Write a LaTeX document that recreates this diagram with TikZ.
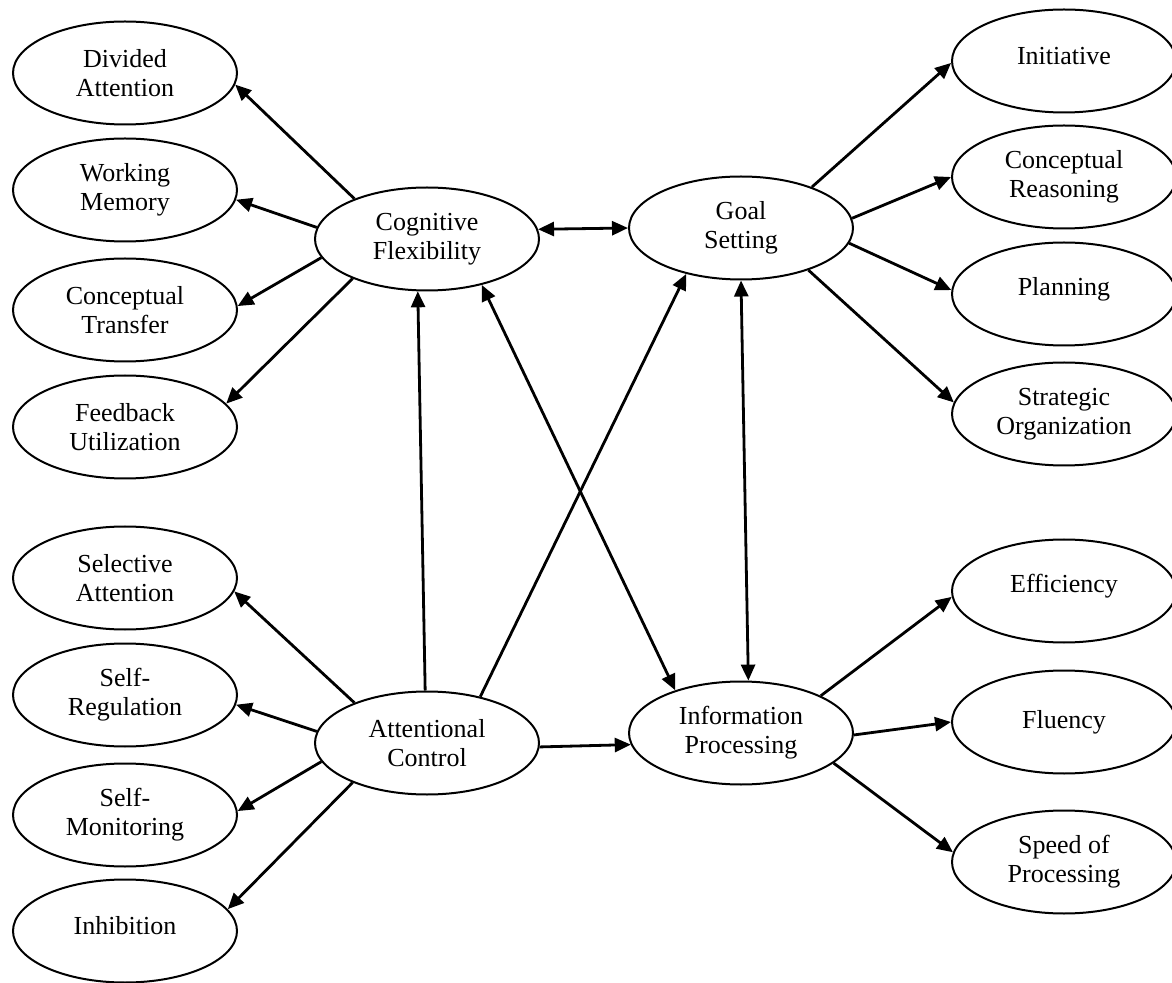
\documentclass[tikz,border=0pt]{standalone}
\usepackage{fontspec}
\setmainfont{Liberation Serif}
\usetikzlibrary{arrows.meta,shapes.geometric}
\newcommand\liftup[1]{\raisebox{2.5pt}[\height][\depth]{#1}}
\begin{document}
\begin{tikzpicture}[x=0.5pt,y=-0.5pt,
  factor/.style={ellipse,draw,line width=1pt,minimum width=112pt,
    minimum height=51.5pt,inner sep=0pt,align=center,
    font=\fontsize{13}{14.5}\selectfont},
  link/.style={line width=1.4pt,-{Triangle[length=8pt,width=7pt]}},
  twoway/.style={line width=1.4pt,{Triangle[length=8pt,width=7pt]}-{Triangle[length=8pt,width=7pt]}}]
\useasboundingbox (0,0) rectangle (1172,983);

% left column: components of cognitive flexibility
\node[factor] (da) at (125,73)  {Divided\\Attention};
\node[factor] (wm) at (125,190) {Working\\Memory};
\node[factor] (ct) at (125,310) {Conceptual\\Transfer};
\node[factor] (fu) at (125,427) {Feedback\\Utilization};
% left column: components of attentional control
\node[factor] (sa) at (125,578) {Selective\\Attention};
\node[factor] (sr) at (125,695) {Self-\\Regulation};
\node[factor] (sm) at (125,815) {Self-\\Monitoring};
\node[factor] (in) at (125,931) {\liftup{Inhibition}};

% the four central domains
\node[factor] (cf) at (427,239) {Cognitive\\Flexibility};
\node[factor] (ac) at (427,743) {Attentional\\Control};
\node[factor] (gs) at (741,228) {Goal\\Setting};
\node[factor] (ip) at (741,733) {Information\\Processing};

% right column: components of goal setting
\node[factor] (it) at (1064,61)  {\liftup{Initiative}};
\node[factor] (cr) at (1064,177) {Conceptual\\Reasoning};
\node[factor] (pl) at (1064,294) {\liftup{Planning}};
\node[factor] (so) at (1064,414) {Strategic\\Organization};
% right column: components of information processing
\node[factor] (ef) at (1064,591) {\liftup{Efficiency}};
\node[factor] (fl) at (1064,722) {Fluency};
\node[factor] (sp) at (1064,862) {Speed of\\Processing};

% cognitive flexibility to its components
\draw[link] (cf.151.6) -- (da.354);
\draw[link] (cf.174.9) -- (wm.355);
\draw[link] (cf.190.3) -- (ct.2.5);
\draw[link] (cf.208.4) -- (fu.13);
% attentional control to its components
\draw[link] (ac.151.6) -- (sa.353.4);
\draw[link] (ac.174.9) -- (sr.355.5);
\draw[link] (ac.190.9) -- (sm.2.5);
\draw[link] (ac.208.4) -- (in.12.5);

% links between the central domains
\draw[link] (ac.92) -- (cf.260.5);
\draw[link] (ac.41.5) -- (gs.220.2);
\draw[link] (ac.358.5) -- (ip.186.5);
\draw[twoway] (cf.5) -- (gs.180);
\draw[twoway] (cf.320.2) -- (ip.147.4);
\draw[twoway] (gs.270) -- (ip.82.7);

% goal setting to its components
\draw[link] (gs.30.7) -- (it.181);
\draw[link] (gs.5.1) -- (cr.180);
\draw[link] (gs.352.9) -- (pl.178);
\draw[link] (gs.328.7) -- (so.174.4);
% information processing to its components
\draw[link] (ip.25.7) -- (ef.183);
\draw[link] (ip.359) -- (fl.180);
\draw[link] (ip.342.3) -- (sp.175.4);
\end{tikzpicture}
\end{document}
